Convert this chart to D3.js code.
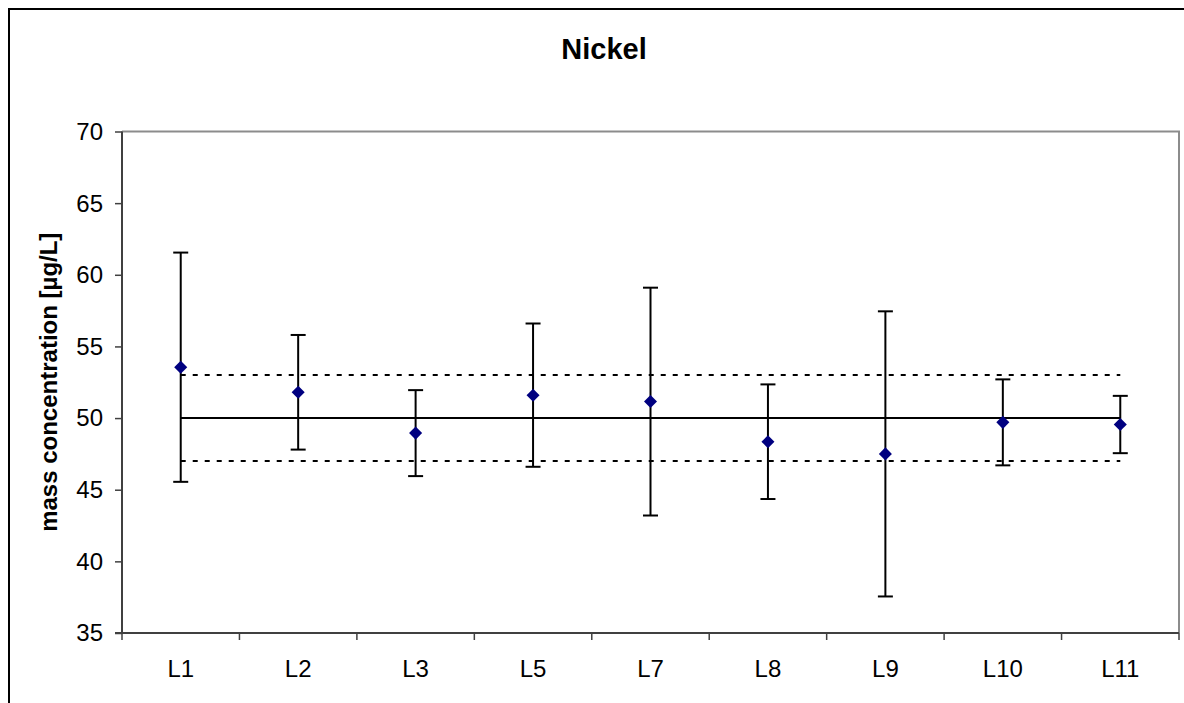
<!DOCTYPE html>
<html>
<head>
<meta charset="utf-8">
<script src="https://cdn.jsdelivr.net/npm/d3@7"></script>
<style>
  html, body { margin: 0; padding: 0; background: #fff; }
  svg { display: block; }
  text { font-family: "Liberation Sans", Arial, sans-serif; fill: #000; }
</style>
</head>
<body>
<svg id="chart" width="1184" height="703"></svg>
<script>
// ---- data ----
const categories = ["L1", "L2", "L3", "L5", "L7", "L8", "L9", "L10", "L11"];
const means      = [53.55, 51.8, 48.95, 51.6, 51.15, 48.35, 47.5, 49.7, 49.55];
const errors     = [8.0, 4.0, 3.0, 5.0, 7.95, 4.0, 9.95, 3.0, 2.0];
const yTicks     = [35, 40, 45, 50, 55, 60, 65, 70];
const refValue   = 50;
const refLower   = 47;
const refUpper   = 53;
const chartTitle = "Nickel";
const yTitle     = "mass concentration [µg/L]";

// ---- layout ----
const svg = d3.select("#chart");
const plot = { left: 122, right: 1179, top: 131.5, bottom: 633 };

const x = d3.scaleBand().domain(categories).range([plot.left, plot.right]).padding(0);
const y = d3.scaleLinear().domain([35, 70]).range([plot.bottom, plot.top]);
const cx = c => x(c) + x.bandwidth() / 2;

// outer frame
svg.append("rect")
  .attr("x", 9).attr("y", 9).attr("width", 1200).attr("height", 720)
  .attr("fill", "none").attr("stroke", "#000").attr("stroke-width", 2);

// title
svg.append("text")
  .attr("x", 604).attr("y", 59)
  .attr("text-anchor", "middle")
  .attr("font-size", 29).attr("font-weight", "bold")
  .text(chartTitle);

// plot area border (top/right gray)
svg.append("path")
  .attr("d", `M${plot.left},${plot.top}H${plot.right}V${plot.bottom}`)
  .attr("fill", "none").attr("stroke", "#8c8c8c").attr("stroke-width", 2);

// y axis
const yAxis = svg.append("g")
  .attr("transform", `translate(${plot.left},0)`)
  .call(d3.axisLeft(y).tickValues(yTicks).tickSize(7).tickPadding(12).tickFormat(d3.format("d")));
yAxis.select(".domain").attr("stroke", "#404040").attr("stroke-width", 2)
  .attr("d", `M0,${plot.top}V${plot.bottom}`);
yAxis.selectAll(".tick line").attr("stroke", "#404040").attr("stroke-width", 1.5);
yAxis.selectAll(".tick text")
  .attr("font-family", "'Liberation Sans', Arial, sans-serif")
  .attr("font-size", 24).attr("fill", "#000").attr("dy", "0.33em");

// x axis
const xAxis = svg.append("g")
  .attr("transform", `translate(0,${plot.bottom})`)
  .call(d3.axisBottom(x).tickSize(0).tickPadding(0));
xAxis.select(".domain").attr("stroke", "#404040").attr("stroke-width", 2)
  .attr("d", `M${plot.left - 7},0H${plot.right}`);
xAxis.selectAll(".tick text")
  .attr("font-family", "'Liberation Sans', Arial, sans-serif")
  .attr("font-size", 24).attr("fill", "#000").attr("dy", 0).attr("y", 44);
// category boundary ticks
const bounds = categories.map(c => x(c)).concat([plot.right]);
xAxis.selectAll(".btick").data(bounds).join("line")
  .attr("class", "btick")
  .attr("x1", d => d).attr("x2", d => d)
  .attr("y1", 0).attr("y2", 7)
  .attr("stroke", "#404040").attr("stroke-width", 1.5);

// y axis title
svg.append("text")
  .attr("transform", `translate(57,${(plot.top + plot.bottom) / 2}) rotate(-90)`)
  .attr("text-anchor", "middle")
  .attr("font-size", 24).attr("font-weight", "bold")
  .text(yTitle);

// reference lines
const x0 = cx(categories[0]);
const x1 = cx(categories[categories.length - 1]);
svg.append("line")
  .attr("x1", x0).attr("x2", x1).attr("y1", y(refValue)).attr("y2", y(refValue))
  .attr("stroke", "#000").attr("stroke-width", 2);
[refLower, refUpper].forEach(v => {
  svg.append("line")
    .attr("x1", x0).attr("x2", x1).attr("y1", y(v)).attr("y2", y(v))
    .attr("stroke", "#000").attr("stroke-width", 2).attr("stroke-dasharray", "5,7");
});

// error bars
const data = categories.map((c, i) => ({ c, m: means[i], e: errors[i] }));
const eb = svg.append("g");
eb.selectAll(".ev").data(data).join("line")
  .attr("x1", d => cx(d.c)).attr("x2", d => cx(d.c))
  .attr("y1", d => y(d.m + d.e)).attr("y2", d => y(d.m - d.e))
  .attr("stroke", "#000").attr("stroke-width", 2);
eb.selectAll(".ct").data(data).join("line")
  .attr("x1", d => cx(d.c) - 7.5).attr("x2", d => cx(d.c) + 7.5)
  .attr("y1", d => y(d.m + d.e)).attr("y2", d => y(d.m + d.e))
  .attr("stroke", "#000").attr("stroke-width", 2);
eb.selectAll(".cb").data(data).join("line")
  .attr("x1", d => cx(d.c) - 7.5).attr("x2", d => cx(d.c) + 7.5)
  .attr("y1", d => y(d.m - d.e)).attr("y2", d => y(d.m - d.e))
  .attr("stroke", "#000").attr("stroke-width", 2);

// markers (diamonds)
const sym = d3.symbol().type(d3.symbolSquare).size(85);
svg.append("g").selectAll("path").data(data).join("path")
  .attr("d", sym)
  .attr("transform", d => `translate(${cx(d.c)},${y(d.m)}) rotate(45)`)
  .attr("fill", "#000080");
</script>
</body>
</html>
